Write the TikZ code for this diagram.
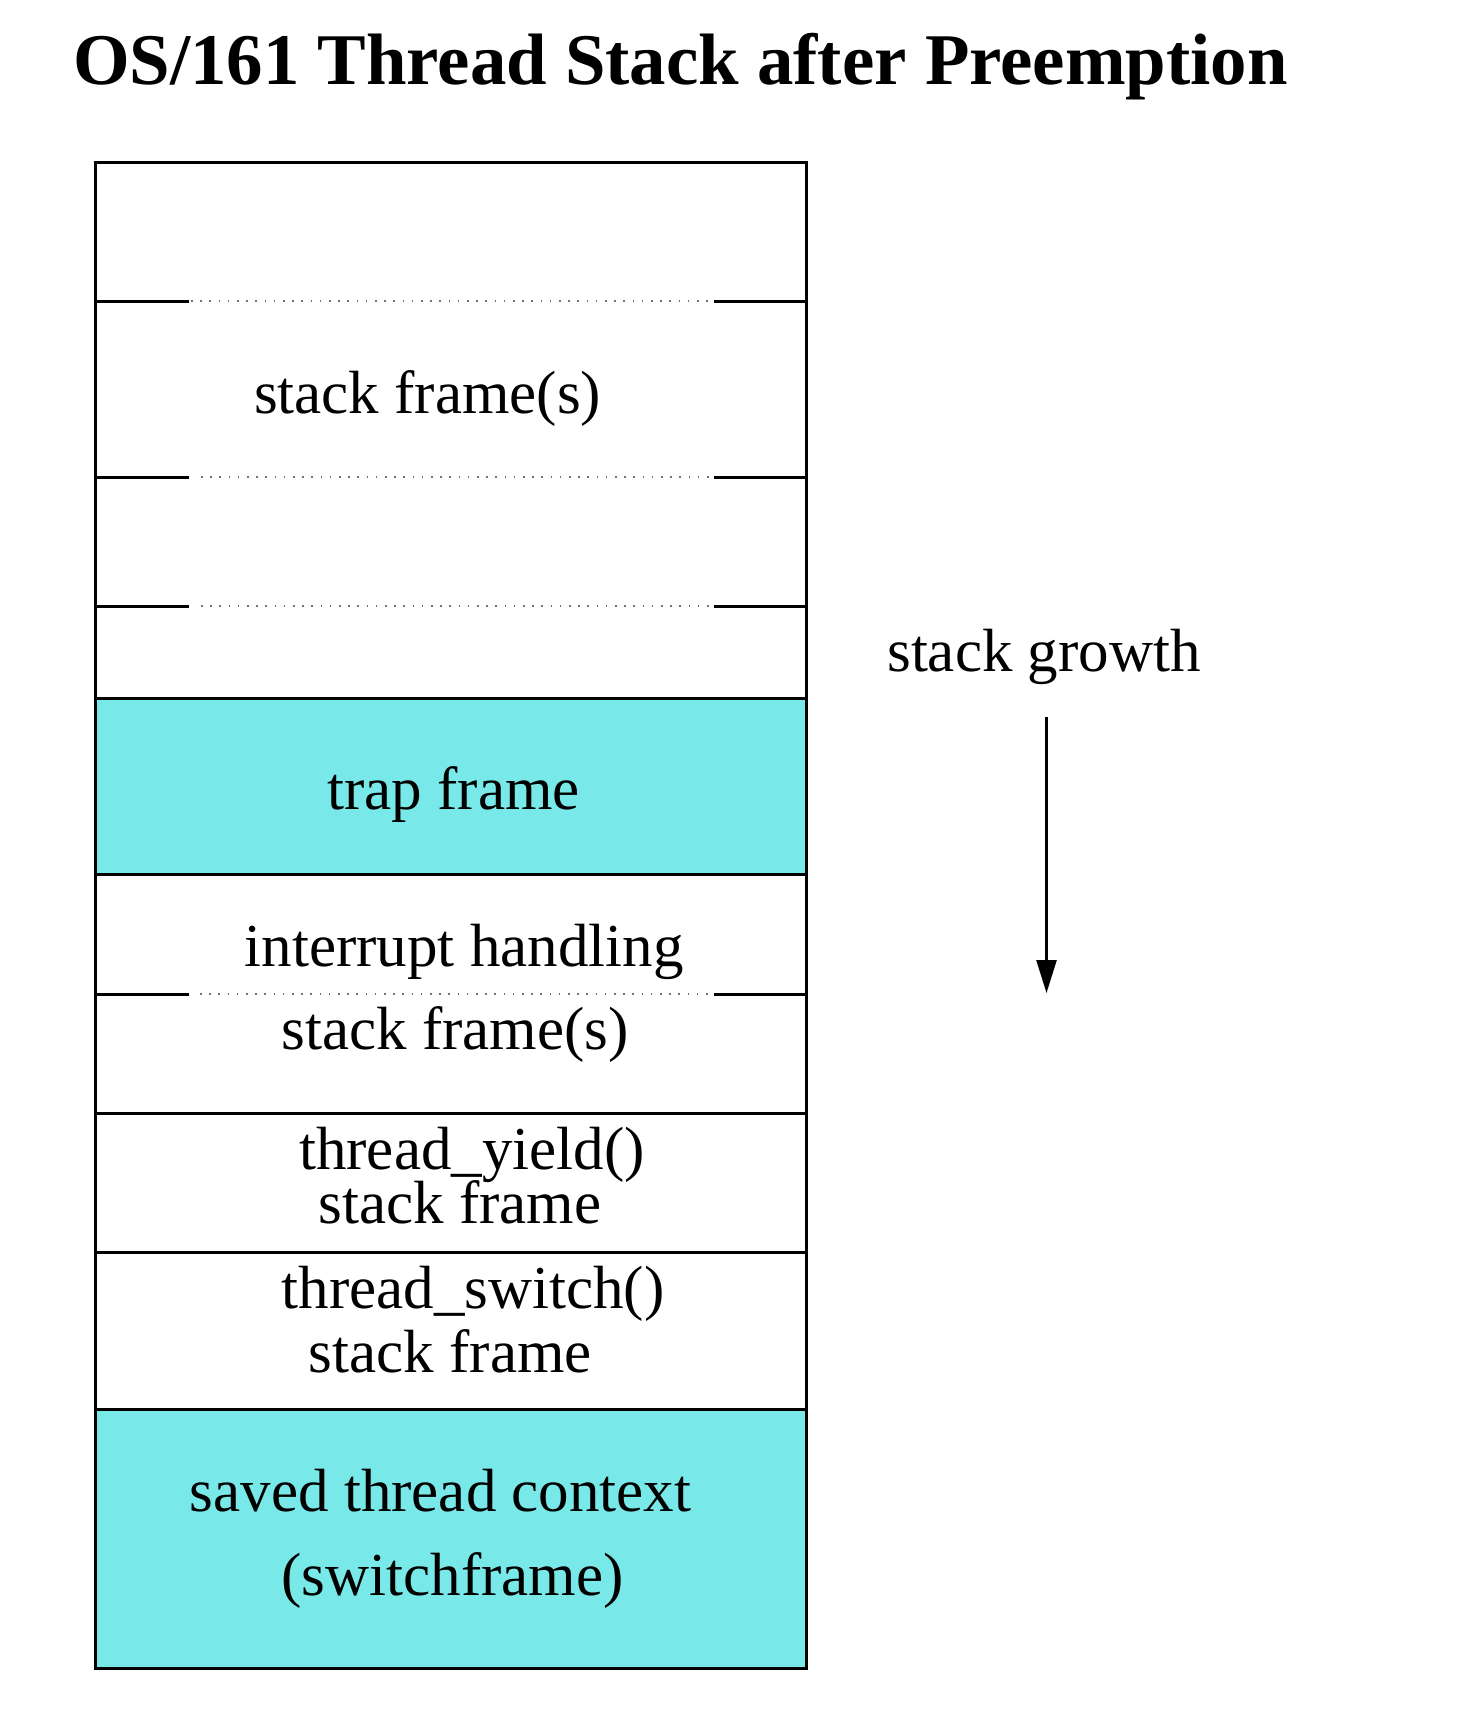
\documentclass[tikz,border=0pt]{standalone}
\usepackage{fontspec}
\setmainfont{Liberation Serif}
\usetikzlibrary{arrows.meta}
\definecolor{cyanfill}{RGB}{120,233,232}
\begin{document}
\begin{tikzpicture}[x=0.5pt,y=-0.5pt,
  lab/.style={anchor=base,inner sep=0pt,font=\fontsize{30.5pt}{36pt}\selectfont},
  titlelab/.style={anchor=base west,inner sep=0pt,font=\bfseries\fontsize{36.4pt}{42pt}\selectfont},
  frameline/.style={line width=1.5pt,line cap=rect},
  dotline/.style={line width=0.8pt,dash pattern=on 0.8pt off 3.8pt,black!55},
  growarrow/.style={line width=1.25pt,-{Triangle[length=16.5pt,width=10pt]}}]
\useasboundingbox (0,0) rectangle (1462,1734);
% title
\node[titlelab] (title) at (72.7,84.8) {OS/161 Thread Stack after Preemption};
% fills
\fill[cyanfill] (95.5,698) rectangle (806.5,874);
\fill[cyanfill] (95.5,1409.5) rectangle (806.5,1668);
% full separators
\foreach \yy in {698,874,1113.5,1252,1409.5}{
  \draw[frameline] (95.5,\yy) -- (806.5,\yy);
}
% partial (dotted) separators
\foreach \yy/\xs in {301/191,477/201,606/201,994/200}{
  \draw[frameline] (95.5,\yy) -- (187,\yy);
  \draw[dotline] (\xs,\yy) -- (709,\yy);
  \draw[frameline] (715,\yy) -- (806.5,\yy);
}
% outer box
\draw[frameline,line cap=butt,line join=miter] (95.5,162) rectangle (806.5,1668);
% labels
\node[lab] (sf1) at (427.6,413.8) {stack frame(s)};
\node[lab] (trap) at (453.7,809.5) {trap frame};
\node[lab] (intr) at (464.2,966.7) {interrupt handling};
\node[lab] (sf2) at (455.2,1049) {stack frame(s)};
\node[lab] (yield) at (471.9,1169.6) {thread\_yield()};
\node[lab] (yieldsf) at (459.9,1223.1) {stack frame};
\node[lab] (switch) at (473,1308.1) {thread\_switch()};
\node[lab] (switchsf) at (450.3,1372.4) {stack frame};
\node[lab] (saved) at (440.6,1511) {saved thread context};
\node[lab] (swframe) at (452.6,1595) {(switchframe)};
\node[lab] (growth) at (1044,671.7) {stack growth};
% arrow
\coordinate (arrtop) at (1046.5,717);
\coordinate (arrtip) at (1046.5,993);
\draw[growarrow] (arrtop) -- (arrtip);
\end{tikzpicture}
\end{document}
